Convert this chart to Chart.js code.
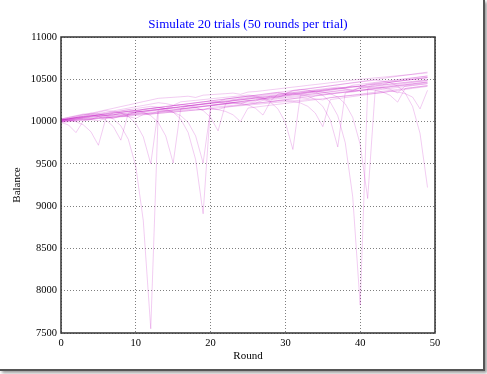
<!DOCTYPE html>
<html>
<head>
<meta charset="utf-8">
<script src="https://cdn.jsdelivr.net/npm/chart.js@4.4.1/dist/chart.umd.min.js"></script>
<style>
  html, body { margin: 0; padding: 0; background: #fff; }
  #wrap { position: relative; width: 487px; height: 374px; }
  #frame {
    position: absolute; left: 0; top: 0; width: 483px; height: 369px;
    border-right: 2px solid #555; border-bottom: 2px solid #555;
    box-shadow: 2px 2px 3px rgba(0,0,0,0.4);
    pointer-events: none;
  }
</style>
</head>
<body>
<div id="wrap">
  <canvas id="chart"></canvas>
  <div id="frame"></div>
</div>
<script>
// ─── DATA ────────────────────────────────────────────────
const ROUNDS = [0,1,2,3,4,5,6,7,8,9,10,11,12,13,14,15,16,17,18,19,
  20,21,22,23,24,25,26,27,28,29,30,31,32,33,34,35,36,37,38,39,
  40,41,42,43,44,45,46,47,48,49];
const X_TICKS = [0, 10, 20, 30, 40, 50];
const Y_TICKS = [7500, 8000, 8500, 9000, 9500, 10000, 10500, 11000];
const TITLE = 'Simulate 20 trials (50 rounds per trial)';

const TRIAL_01 = [10030,10048,10065,10083,10100,10090,10070,10030,9950,9790,
  9470,8830,7550,10110,10121,10133,10144,10156,10167,10179,
  10190,10202,10213,10225,10236,10248,10259,10271,10282,10294,
  10305,10317,10328,10340,10351,10363,10374,10386,10397,10409,
  10420,10432,10443,10455,10466,10478,10489,10501,10512,10524];
const TRIAL_02 = [10020,10033,10047,10060,10073,10087,10100,10113,10127,10140,
  10153,10167,10180,10170,10150,10110,10030,9870,9550,8910,
  10190,10202,10214,10226,10238,10250,10241,10274,10286,10298,
  10310,10322,10334,10346,10358,10370,10382,10394,10406,10418,
  10409,10442,10454,10466,10478,10490,10502,10514,10526,10538];
const TRIAL_03 = [10015,10026,10038,10049,10061,10072,10083,10074,10106,10118,
  10129,10140,10152,10163,10175,10186,10197,10209,10220,10232,
  10243,10233,10266,10277,10289,10300,10311,10323,10334,10346,
  10357,10368,10380,10370,10350,10310,10230,10070,9750,9110,
  7830,10390,10402,10414,10426,10438,10450,10462,10474,10486];
const TRIAL_04 = [10010,10020,10031,10041,10051,10061,10072,10082,10092,10082,
  10113,10123,10134,10144,10154,10164,10175,10185,10195,10206,
  10216,10226,10236,10247,10257,10267,10278,10267,10298,10308,
  10319,10329,10339,10350,10360,10350,10330,10290,10210,10050,
  9730,9090,10370,10381,10392,10403,10414,10425,10436,10447];
const TRIAL_05 = [10020,10031,10042,10054,10065,10076,10087,10098,10110,10121,
  10132,10143,10154,10166,10156,10188,10199,10210,10222,10233,
  10244,10255,10266,10278,10289,10300,10311,10322,10334,10345,
  10335,10367,10378,10390,10401,10412,10423,10434,10446,10457,
  10468,10479,10490,10480,10460,10420,10340,10180,9860,9220];
const TRIAL_06 = [10030,10020,10000,9960,9880,9720,10040,10051,10062,10073,
  10084,10095,10106,10117,10128,10139,10150,10161,10172,10183,
  10194,10205,10216,10227,10217,10197,10157,10077,10237,10248,
  10259,10270,10281,10292,10303,10314,10325,10336,10347,10358,
  10369,10380,10391,10402,10413,10424,10435,10446,10457,10468];
const TRIAL_07 = [10030,10050,10070,10090,10080,10060,10020,9940,9780,10100,
  10111,10122,10133,10144,10155,10166,10177,10188,10199,10210,
  10221,10232,10222,10254,10265,10276,10287,10298,10309,10320,
  10331,10342,10353,10364,10375,10386,10397,10408,10398,10430,
  10441,10452,10463,10474,10485,10496,10507,10518,10529,10540];
const TRIAL_08 = [10010,10030,10050,10070,10090,10110,10130,10120,10100,10060,
  9980,9820,9500,10140,10151,10161,10172,10182,10193,10203,
  10214,10224,10235,10245,10256,10266,10277,10287,10298,10287,
  10319,10329,10340,10350,10361,10371,10382,10392,10403,10413,
  10424,10434,10445,10434,10466,10476,10487,10497,10508,10518];
const TRIAL_09 = [10000,10016,10031,10047,10062,10078,10093,10109,10124,10140,
  10130,10110,10070,9990,9830,9510,10150,10160,10170,10180,
  10190,10200,10210,10220,10209,10240,10250,10260,10270,10280,
  10290,10300,10310,10320,10330,10340,10350,10360,10370,10380,
  10390,10400,10410,10400,10380,10340,10420,10430,10440,10450];
const TRIAL_10 = [10005,10015,10026,10036,10026,10057,10067,10078,10088,10099,
  10109,10119,10130,10140,10130,10110,10070,9990,9830,9510,
  10150,10161,10172,10183,10194,10205,10216,10227,10238,10249,
  10260,10271,10282,10272,10304,10315,10326,10337,10348,10359,
  10370,10381,10392,10403,10414,10425,10436,10447,10458,10469];
const TRIAL_11 = [10020,10031,10043,10054,10065,10076,10067,10099,10110,10121,
  10133,10144,10155,10166,10178,10189,10200,10190,10170,10130,
  10050,9890,10210,10222,10233,10245,10256,10268,10279,10291,
  10302,10314,10325,10337,10348,10360,10371,10383,10394,10406,
  10417,10408,10440,10452,10463,10475,10486,10498,10509,10521];
const TRIAL_12 = [10025,10036,10047,10058,10069,10080,10091,10102,10113,10124,
  10114,10146,10157,10168,10179,10190,10201,10212,10223,10234,
  10245,10256,10267,10278,10289,10300,10290,10270,10230,10150,
  9990,9670,10310,10321,10332,10343,10354,10365,10376,10366,
  10398,10409,10420,10431,10442,10453,10464,10475,10486,10497];
const TRIAL_13 = [10000,10008,10017,10025,10033,10042,10050,10037,10067,10075,
  10083,10092,10100,10108,10117,10125,10133,10142,10150,10137,
  10167,10175,10183,10192,10200,10208,10217,10225,10233,10242,
  10250,10240,10220,10180,10100,9940,10260,10272,10284,10296,
  10308,10320,10332,10344,10356,10368,10380,10392,10404,10416];
const TRIAL_14 = [10010,10020,10031,10041,10051,10062,10072,10082,10093,10103,
  10113,10124,10134,10144,10155,10165,10154,10186,10196,10206,
  10217,10227,10237,10248,10258,10268,10279,10289,10299,10310,
  10320,10330,10320,10300,10260,10180,10020,9700,10340,10351,
  10362,10373,10384,10395,10406,10417,10428,10439,10450,10461];
const TRIAL_15 = [10000,10009,10019,10028,10037,10046,10056,10065,10074,10083,
  10093,10102,10090,10120,10130,10139,10148,10158,10167,10176,
  10185,10195,10204,10213,10222,10232,10220,10250,10259,10269,
  10278,10287,10297,10306,10315,10324,10334,10343,10352,10361,
  10371,10380,10370,10350,10310,10230,10390,10402,10414,10426];
const TRIAL_16 = [9990,9998,10006,10015,10023,10010,10039,10047,10056,10064,
  10072,10080,10088,10097,10105,10113,10121,10129,10138,10146,
  10154,10141,10170,10179,10187,10195,10203,10211,10220,10228,
  10236,10244,10252,10261,10269,10256,10285,10293,10302,10310,
  10318,10326,10334,10343,10360,10350,10330,10290,10150,10370];
const TRIAL_17 = [9990,9960,9870,10010,10023,10035,10048,10060,10073,10085,
  10098,10110,10123,10135,10148,10160,10173,10185,10198,10210,
  10223,10235,10248,10260,10273,10285,10298,10310,10323,10335,
  10327,10360,10373,10385,10398,10410,10423,10435,10448,10460,
  10473,10485,10498,10510,10523,10535,10548,10560,10573,10585];
const TRIAL_18 = [10000,10008,10015,10023,10030,10038,10045,10053,10060,10058,
  10038,10083,10090,10098,10105,10113,10120,10128,10135,10143,
  10150,10140,10120,10080,10000,10160,10171,10182,10193,10204,
  10215,10226,10237,10248,10259,10270,10281,10292,10303,10314,
  10325,10336,10347,10358,10369,10380,10391,10402,10413,10424];
const TRIAL_19 = [10020,10040,10059,10079,10098,10118,10138,10157,10177,10196,
  10216,10236,10255,10275,10281,10287,10293,10300,10285,10312,
  10318,10324,10330,10337,10322,10349,10355,10365,10376,10386,
  10397,10407,10417,10428,10438,10448,10459,10469,10479,10490,
  10500,10508,10517,10525,10533,10542,10550,10558,10567,10575];
const TRIAL_20 = [10015,10031,10047,10063,10079,10095,10111,10127,10143,10159,
  10175,10191,10207,10223,10213,10193,10233,10242,10251,10260,
  10269,10278,10287,10296,10305,10314,10304,10284,10244,10324,
  10333,10342,10351,10360,10369,10378,10387,10396,10386,10366,
  10406,10415,10424,10433,10442,10451,10460,10469,10478,10487];

const TRIALS = [TRIAL_01, TRIAL_02, TRIAL_03, TRIAL_04, TRIAL_05,
  TRIAL_06, TRIAL_07, TRIAL_08, TRIAL_09, TRIAL_10,
  TRIAL_11, TRIAL_12, TRIAL_13, TRIAL_14, TRIAL_15,
  TRIAL_16, TRIAL_17, TRIAL_18, TRIAL_19, TRIAL_20];

// ─── STYLE ───────────────────────────────────────────────
const SERIF = "'Liberation Serif', 'DejaVu Serif', serif";
const LINE = 'rgba(191, 0, 191, 0.2)';

// axes frame + title centred over the plot box (matplotlib style)
const axesBox = {
  id: 'axesBox',
  afterDatasetsDraw(chart) {
    const { ctx, chartArea: a } = chart;
    ctx.save();
    ctx.strokeStyle = '#333';
    ctx.lineWidth = 1.5;
    ctx.strokeRect(a.left, a.top, a.right - a.left, a.bottom - a.top);
    ctx.fillStyle = '#0000ff';
    ctx.font = '13px ' + SERIF;
    ctx.textAlign = 'center';
    ctx.textBaseline = 'middle';
    ctx.fillText(TITLE, (a.left + a.right) / 2, a.top - 12);
    ctx.restore();
  },
};

new Chart(document.getElementById('chart'), {
  type: 'line',
  data: {
    datasets: TRIALS.map((t, k) => ({
      label: 'Trial ' + (k + 1),
      data: t.map((y, i) => ({ x: ROUNDS[i], y })),
      borderColor: LINE,
      borderWidth: 1,
      pointRadius: 0,
      tension: 0,
      fill: false,
    })),
  },
  options: {
    responsive: true,
    maintainAspectRatio: false,
    animation: false,
    layout: { padding: { top: 37, left: 0, right: 52, bottom: 0 } },
    plugins: {
      legend: { display: false },
      tooltip: { enabled: false },
      title: { display: false },
    },
    scales: {
      x: {
        type: 'linear',
        min: 0, max: 50,
        afterBuildTicks: s => { s.ticks = X_TICKS.map(v => ({ value: v })); },
        afterFit: s => { s.height = 41; },
        grid: { color: 'rgba(0,0,0,0.5)', lineWidth: 1, drawTicks: false },
        border: { display: false, dash: [1, 2] },
        ticks: {
          color: '#000', font: { family: SERIF, size: 10.5 }, padding: 4, maxRotation: 0,
          callback: v => String(v),
        },
        title: {
          display: true, text: 'Round', color: '#000',
          font: { family: SERIF, size: 11, lineHeight: 1.2 },
          padding: { top: 0, bottom: 11 },
        },
      },
      y: {
        min: 7500, max: 11000,
        afterBuildTicks: s => { s.ticks = Y_TICKS.map(v => ({ value: v })); },
        afterFit: s => { s.width = 61; },
        grid: { color: 'rgba(0,0,0,0.5)', lineWidth: 1, drawTicks: false },
        border: { display: false, dash: [1, 2] },
        ticks: {
          color: '#000', font: { family: SERIF, size: 10.5 }, padding: 4,
          callback: v => String(v),
        },
        title: {
          display: true, text: 'Balance', color: '#000',
          font: { family: SERIF, size: 11, lineHeight: 1.2 },
          padding: { top: 11, bottom: 0 },
        },
      },
    },
  },
  plugins: [axesBox],
});
</script>
</body>
</html>
